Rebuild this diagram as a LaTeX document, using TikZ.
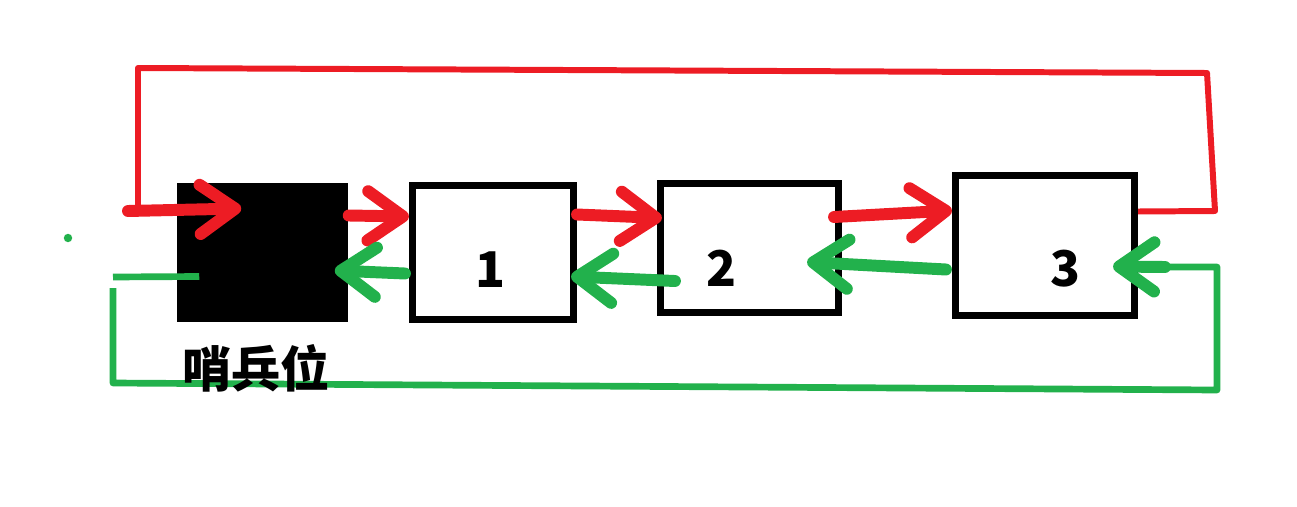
\documentclass[tikz,border=0pt]{standalone}
\usepackage{fontspec}
\newfontfamily\cjk{Noto Sans CJK SC}
\usepackage{tikz}
\usetikzlibrary{arrows.meta,calc}
\usepackage{xcolor}
\definecolor{paintred}{HTML}{ED1C24}
\definecolor{paintgreen}{HTML}{22B14C}

\begin{document}
\begin{tikzpicture}[x=0.01cm,y=-0.01cm,
  cell/.style={draw,line width=2pt,inner sep=0pt},
  fwd/.style={paintred,line width=3.4pt,line cap=round,-{Straight Barb[length=10pt,width=14pt,line cap=round,line join=round]}},
  bwd/.style={paintgreen,line width=3.4pt,line cap=round,-{Straight Barb[length=10pt,width=14pt,line cap=round,line join=round]}},
  redloop/.style={paintred,line width=1.7pt,line join=round},
  greenloop/.style={paintgreen,line width=1.9pt,line join=round},
  num/.style={font=\cjk\bfseries\fontsize{14pt}{14pt}\selectfont,inner sep=0pt}]
\useasboundingbox (0,0) rectangle (1297,506);
\node [fill=black,inner sep=0pt,minimum width=1.71cm,minimum height=1.39cm] (s) at (262.5,252.5) {};
\node [cell,minimum width=1.61cm,minimum height=1.34cm] (n1) at (493,252.5) {};
\node [cell,minimum width=1.78cm,minimum height=1.29cm] (n2) at (749.5,248) {};
\node [cell,minimum width=1.79cm,minimum height=1.40cm] (n3) at (1045,245.5) {};
\node [num] (t1) at (490,270) {1};
\node [num] (t2) at (721.5,268.5) {2};
\node [num] (t3) at (1065.5,268.5) {3};
\fill [paintgreen] (68,238) circle [radius=1.2pt];
% red loop
\coordinate (rtr) at (1215,211);
\coordinate (rtl) at (138,68);
\draw [redloop] ($(n3.east)+(0,-34)$) -- (rtr) -- (1207,73) -- (rtl) -- (138,210);
\draw [fwd] (128,211) -- ($(s.west)+(65,-44)$);
\draw [fwd] ($(s.east)+(0,-37)$) -- ($(n1.west)+(0,-36)$);
\draw [fwd] ($(n1.east)+(0,-38)$) -- ($(n2.west)+(5,-30)$);
\draw [fwd] ($(n2.east)+(-8,-31)$) -- ($(n3.west)+(0,-35)$);
% green loop
\coordinate (gbl) at (113,383);
\coordinate (gbr) at (1217,390);
\draw [greenloop] ($(s.west)+(23,24)$) -- (113,277) (113,288) -- (gbl) -- (gbr) -- (1217,267) -- (1160,267);
\draw [bwd] (1165,267) -- ($(n3.east)+(-25,21)$);
\draw [bwd] ($(n3.west)+(-6,24)$) -- ($(n2.east)+(-35,14)$);
\draw [bwd] ($(n2.west)+(18,33)$) -- ($(n1.east)+(-6,24)$);
\draw [bwd] ($(n1.west)+(-4,21)$) -- ($(s.east)+(-14,18)$);
\node [num] (lab) at (256,368) {哨兵位};
\end{tikzpicture}
\end{document}
